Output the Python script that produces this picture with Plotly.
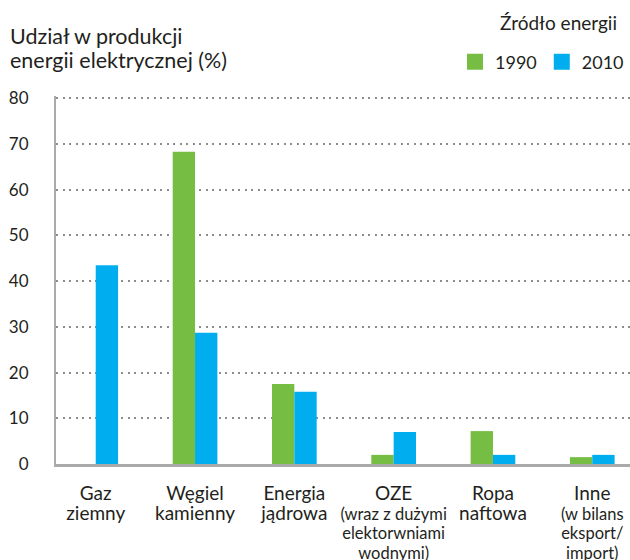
import plotly.graph_objects as go

MAIN = "<span style='font-size:19px'>{}</span>"
SUB = "<span style='font-size:16.5px'>{}</span>"

category_titles = ["Gaz<br>ziemny", "Węgiel<br>kamienny", "Energia<br>jądrowa",
                   "OZE", "Ropa<br>naftowa", "Inne"]
category_notes = ["", "", "", "(wraz z dużymi<br>elektorwniami<br>wodnymi)", "",
                  "(w bilans<br>eksport/<br>import)"]
keys = ["gaz", "wegiel", "jadrowa", "oze", "ropa", "inne"]
series_names = ["1990", "2010"]
values_1990 = [0, 68.3, 17.5, 2.0, 7.2, 1.5]
values_2010 = [43.5, 28.7, 15.8, 7.0, 2.0, 2.0]
y_ticks = [0, 10, 20, 30, 40, 50, 60, 70, 80]

categories = []
for t, n in zip(category_titles, category_notes):
    parts = [MAIN.format(line) for line in t.split("<br>")]
    if n:
        parts += [SUB.format(line) for line in n.split("<br>")]
    categories.append("<br>".join(parts))

GREEN = "#76BD43"
BLUE = "#00AEEF"
TEXT = "#231F20"
FONT = "Lato"

Y_TOP = 80.5
L, R, B = 56, 0, 96
SCALE = (560 - B - 98) / 80.0
T = int(round(98 - (Y_TOP - 80) * SCALE))
PW, PH = 630 - L - R, 560 - T - B

def px_x(x):
    return (x - L) / PW

def px_y(y):
    return (560 - B - y) / PH

fig = go.Figure()
for name, vals, col in [(series_names[0], values_1990, GREEN), (series_names[1], values_2010, BLUE)]:
    fig.add_trace(go.Bar(name=name, x=keys, y=vals, marker_color=col,
                         marker_line_width=0, showlegend=False))
    # legend entry with a larger square swatch
    fig.add_trace(go.Scatter(name=name, x=[None], y=[None], mode="markers",
                             marker=dict(symbol="square", size=17, color=col),
                             showlegend=True, hoverinfo="skip"))

fig.update_layout(
    width=630, height=560,
    margin=dict(l=L, r=R, t=T, b=B, autoexpand=False),
    paper_bgcolor="white", plot_bgcolor="white",
    font=dict(family=FONT, color=TEXT, size=16),
    barmode="group", bargap=0.55, bargroupgap=0,
    showlegend=True,
    legend=dict(orientation="h", x=px_x(455), xanchor="left", y=px_y(62), yanchor="middle",
                font=dict(size=18, family=FONT, color=TEXT),
                itemwidth=30, tracegroupgap=0, bgcolor="rgba(0,0,0,0)",
                borderwidth=0),
    xaxis=dict(
        type="category", range=[-0.4, 5.38],
        tickmode="array", tickvals=keys, ticktext=categories,
        showline=True, linecolor="#AAAAAA", linewidth=3,
        showgrid=False, ticks="", ticklabelstandoff=15,
        tickfont=dict(size=15, family=FONT, color=TEXT),
        fixedrange=True,
    ),
    yaxis=dict(
        range=[0, Y_TOP], tickmode="array", tickvals=y_ticks,
        showline=True, linecolor="#AAAAAA", linewidth=2,
        showgrid=True, gridcolor="#8C8C8C", gridwidth=1.5, griddash="2px,4.5px",
        zeroline=False, ticks="", ticklabelstandoff=22,
        tickfont=dict(size=17, family=FONT, color=TEXT),
        fixedrange=True,
    ),
    annotations=[
        dict(text="Udział w produkcji",
             xref="paper", yref="paper", x=px_x(8), y=px_y(36),
             xanchor="left", yanchor="middle", align="left", showarrow=False,
             font=dict(size=21.5, family=FONT, color=TEXT)),
        dict(text="energii elektrycznej (%)",
             xref="paper", yref="paper", x=px_x(8), y=px_y(60),
             xanchor="left", yanchor="middle", align="left", showarrow=False,
             font=dict(size=21.5, family=FONT, color=TEXT)),
        dict(text="Źródło energii", xref="paper", yref="paper",
             x=px_x(619), y=px_y(22),
             xanchor="right", yanchor="middle", showarrow=False,
             font=dict(size=19, family=FONT, color=TEXT)),
    ],
)

fig.write_html("out.html", config={"displayModeBar": False},
               post_script="document.body.style.margin='0';document.body.style.padding='0';")
